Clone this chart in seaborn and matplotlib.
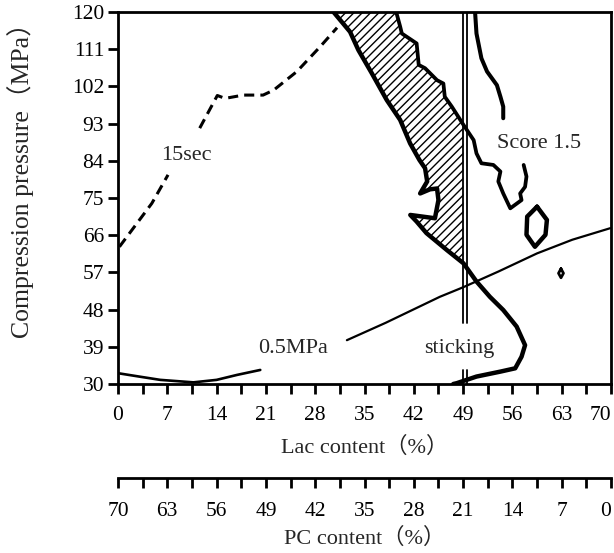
import matplotlib
matplotlib.use("Agg")
import matplotlib.pyplot as plt
import seaborn as sns
import numpy as np
from matplotlib.ticker import FixedLocator

sns.set_theme(style="white")
plt.rcParams['font.family'] = ['Liberation Serif', 'Noto Sans CJK SC', 'DejaVu Sans']

# ---- data (Lac content %, compression pressure MPa) ----
sec15_x = [0.2, 4.8, 7.1, 11.6, 14.1, 15.2, 17.8, 20.6, 22.1, 25.4, 28.7, 31.1]
sec15_y = [63.2, 73.7, 80.6, 91.9, 99.8, 99.1, 99.9, 99.9, 101.1, 105.6, 111.6, 116.2]
sec15_gap = 3  # line is broken where the "15sec" label sits

left_x = [30.6, 32.95, 34.13, 36.03, 38.16, 40.06, 41.48, 42.8, 43.6, 43.9, 42.9, 44.3,
          45.3, 45.5, 45.0, 41.5, 42.4, 43.8, 46.7, 49.05, 50.9, 52.8, 54.7, 56.6,
          57.8, 57.3, 56.4, 54.3, 50.9, 48.1, 47.6]
left_y = [120.0, 115.2, 110.8, 105.2, 98.7, 93.9, 88.2, 84.2, 82.2, 79.0, 76.1, 77.1,
          77.3, 74.5, 70.1, 70.9, 69.3, 66.5, 62.4, 59.2, 54.8, 51.1, 47.9, 43.9,
          39.4, 36.6, 33.8, 33.0, 31.8, 30.2, 30.0]

score_x = [39.5, 40.06, 40.3, 42.4, 42.7, 43.6, 45.3, 46.2, 46.4, 47.4, 49.05,
           50.5, 50.9, 51.6, 53.3, 54.3, 54.0, 54.7, 55.7, 57.3, 57.1, 57.8, 58.0, 57.6]
score_y = [120.0, 116.5, 114.8, 112.4, 107.2, 106.4, 103.5, 102.7, 99.5, 97.1, 92.7,
           89.0, 85.8, 83.4, 83.0, 81.4, 79.0, 76.1, 72.5, 74.5, 76.1, 77.7, 80.2, 83.0]

upper_x = [50.7, 50.9, 51.6, 52.4, 53.8, 54.3, 54.7, 54.7]
upper_y = [120.0, 114.8, 108.8, 105.6, 102.3, 99.5, 97.1, 94.3]

hex_x = [59.5, 60.9, 60.7, 59.2, 58.0, 58.1, 59.5]
hex_y = [72.9, 69.7, 66.1, 63.2, 66.1, 70.5, 72.9]

dia_x = [62.9, 63.25, 62.9, 62.55, 62.9]
dia_y = [57.9, 56.8, 55.7, 56.8, 57.9]

mpa_x = [32.5, 38.0, 45.7, 49.0, 54.0, 59.5, 64.5, 69.9]
mpa_y = [40.6, 44.8, 51.1, 53.4, 57.2, 61.6, 64.9, 67.7]

mpa_low_x = [0.05, 3.0, 6.0, 10.7, 14.0, 16.9, 20.2]
mpa_low_y = [32.6, 31.8, 31.0, 30.4, 31.0, 32.2, 33.4]

stick_x = [48.95, 49.6]
stick_top = [120.0, 44.8]
stick_bot = [33.4, 30.0]

lac_ticks = [0, 7, 14, 21, 28, 35, 42, 49, 56, 63, 70]
pc_ticks = [70, 63, 56, 49, 42, 35, 28, 21, 14, 7, 0]
y_ticks = [30, 39, 48, 57, 66, 75, 84, 93, 102, 111, 120]

# ---- figure ----
fig = plt.figure(figsize=(6.14, 5.53), dpi=100)
ax = fig.add_axes([0.1922, 0.3056, 0.8029, 0.6727])

# hatched region: between left boundary and right jagged boundary / x=49
n_left = left_x.index(49.05) + 1
n_right = score_x.index(49.05) + 1
poly_x = left_x[:n_left] + [49.05] + score_x[:n_right][::-1]
poly_y = left_y[:n_left] + [92.7] + score_y[:n_right][::-1]
ax.fill(poly_x, poly_y, facecolor='white', edgecolor='black', hatch='////',
        linewidth=0, zorder=1)

dash = (0, (3.3, 2.0))
sns.lineplot(x=sec15_x[:sec15_gap], y=sec15_y[:sec15_gap], sort=False, estimator=None,
             ax=ax, color='black', linewidth=2.2, linestyle=dash)
sns.lineplot(x=sec15_x[sec15_gap:], y=sec15_y[sec15_gap:], sort=False, estimator=None,
             ax=ax, color='black', linewidth=2.2, linestyle=dash)
sns.lineplot(x=left_x, y=left_y, sort=False, estimator=None, ax=ax, color='black',
             linewidth=3.2)
sns.lineplot(x=score_x, y=score_y, sort=False, estimator=None, ax=ax, color='black',
             linewidth=2.7)
sns.lineplot(x=upper_x, y=upper_y, sort=False, estimator=None, ax=ax, color='black',
             linewidth=2.9)
sns.lineplot(x=hex_x, y=hex_y, sort=False, estimator=None, ax=ax, color='black',
             linewidth=3.2)
sns.lineplot(x=dia_x, y=dia_y, sort=False, estimator=None, ax=ax, color='black',
             linewidth=2.0)
sns.lineplot(x=mpa_x, y=mpa_y, sort=False, estimator=None, ax=ax, color='black',
             linewidth=1.6)
sns.lineplot(x=mpa_low_x, y=mpa_low_y, sort=False, estimator=None, ax=ax, color='black',
             linewidth=1.9)
for sx in stick_x:
    ax.plot([sx, sx], stick_top, color='black', linewidth=1.3)
    ax.plot([sx, sx], stick_bot, color='black', linewidth=1.3)

fs_text = 16
ax.text(9.75, 85.4, "15sec", fontsize=fs_text, ha='center', va='center')
ax.text(59.8, 88.2, "Score 1.5", fontsize=fs_text, ha='center', va='center')
ax.text(24.8, 38.5, "0.5MPa", fontsize=fs_text, ha='center', va='center')
ax.text(48.5, 38.5, "sticking", fontsize=fs_text, ha='center', va='center')

ax.set_xlim(0, 70)
ax.set_ylim(30, 120)
for sp in ax.spines.values():
    sp.set_visible(True)
    sp.set_color('black')
    sp.set_linewidth(2.0)

fs_tick = 15.5
minor = [3.5 + 7 * i for i in range(10)]
ax.xaxis.set_major_locator(FixedLocator(lac_ticks))
ax.xaxis.set_minor_locator(FixedLocator(minor))
ax.set_xticklabels([str(t) for t in lac_ticks])
ax.get_xticklabels()[-1].set_ha('right')
ax.yaxis.set_major_locator(FixedLocator(y_ticks))
ax.set_yticklabels([str(t) for t in y_ticks])
ax.tick_params(axis='x', which='both', direction='out', length=7, width=2.0,
               bottom=True, top=False, labelsize=fs_tick, pad=9, colors='black')
ax.tick_params(axis='y', which='major', direction='out', length=7, width=2.0,
               left=True, right=False, labelsize=fs_tick, pad=3, colors='black')
ax.set_xlabel("Lac content（%）", fontsize=16, labelpad=8)
ax.set_ylabel("Compression pressure（MPa）", fontsize=18.5)
ax.yaxis.set_label_coords(-0.17, 0.565)

# secondary PC axis
sec = ax.secondary_xaxis(-0.2527, functions=(lambda v: 70 - v, lambda v: 70 - v))
sec.xaxis.set_major_locator(FixedLocator(pc_ticks))
sec.xaxis.set_minor_locator(FixedLocator(minor))
sec.set_xticklabels([str(t) for t in pc_ticks])
sec.get_xticklabels()[-1].set_ha('right')
sec.spines['bottom'].set_linewidth(2.0)
sec.spines['bottom'].set_color('black')
sec.tick_params(axis='x', which='both', direction='out', length=7, width=2.0,
                labelsize=fs_tick, pad=10, colors='black')
sec.set_xlabel("PC content（%）", fontsize=16, labelpad=5)

fig.savefig("out.png", dpi=100)
